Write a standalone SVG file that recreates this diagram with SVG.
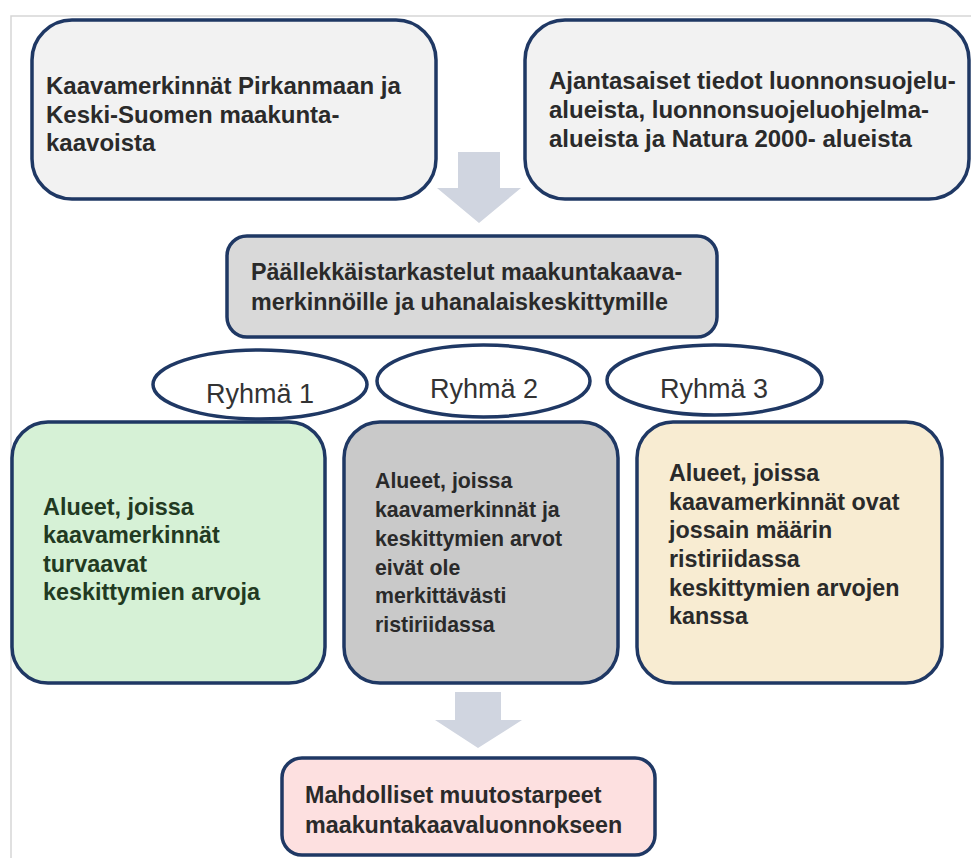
<svg xmlns="http://www.w3.org/2000/svg" width="971" height="858" viewBox="0 0 971 858">
<style>
.box{stroke:#1f3864;stroke-width:3.5}
.ell{fill:#ffffff;stroke:#1f3864;stroke-width:3.5}
.t{font-family:"Liberation Sans",Arial,sans-serif;font-weight:bold;fill:#2a2a2a}
.r{font-family:"Liberation Sans",Arial,sans-serif;font-size:27px;fill:#333333;text-anchor:middle}
.arrow{fill:#d0d5e0}
</style>
<rect x="0" y="0" width="971" height="858" fill="#ffffff"/>
<rect x="11" y="16" width="1000" height="900" fill="none" stroke="#d6d6d6" stroke-width="1.5"/>
<g id="connectors">
  <path class="arrow" d="M458,152 H500 V188 H521 L479,223 L437,188 H458 Z"/>
  <path class="arrow" d="M455,692 H501 V720 H522 L478,748 L435,720 H455 Z"/>
</g>
<g id="box-kaavamerkinnat">
  <rect class="box" x="32" y="20" width="404" height="179" rx="40" fill="#f2f2f2"/>
  <text class="t" font-size="24">
    <tspan x="46" y="94">Kaavamerkinnät Pirkanmaan ja</tspan>
    <tspan x="46" y="123">Keski-Suomen maakunta-</tspan>
    <tspan x="46" y="151">kaavoista</tspan>
  </text>
</g>
<g id="box-ajantasaiset">
  <rect class="box" x="525" y="20" width="444" height="179" rx="40" fill="#f2f2f2"/>
  <text class="t" font-size="24">
    <tspan x="549" y="89">Ajantasaiset tiedot luonnonsuojelu-</tspan>
    <tspan x="549" y="118">alueista, luonnonsuojeluohjelma-</tspan>
    <tspan x="549" y="147">alueista ja Natura 2000- alueista</tspan>
  </text>
</g>
<g id="box-paallekkaistarkastelut">
  <rect class="box" x="227" y="236" width="490" height="101" rx="20" fill="#d9d9d9"/>
  <text class="t" font-size="23.3">
    <tspan x="251" y="280">Päällekkäistarkastelut maakuntakaava-</tspan>
    <tspan x="251" y="310">merkinnöille ja uhanalaiskeskittymille</tspan>
  </text>
</g>
<g id="group-1">
  <ellipse class="ell" cx="260" cy="384.5" rx="107" ry="34.5"/>
  <text class="r" x="260" y="403">Ryhmä 1</text>
</g>
<g id="group-2">
  <ellipse class="ell" cx="483.5" cy="381" rx="106.5" ry="36"/>
  <text class="r" x="484" y="398">Ryhmä 2</text>
</g>
<g id="group-3">
  <ellipse class="ell" cx="714.5" cy="380" rx="107.5" ry="35"/>
  <text class="r" x="714" y="398">Ryhmä 3</text>
</g>
<g id="box-ryhma1">
  <rect class="box" x="12" y="422" width="313" height="261" rx="36" fill="#d6f1d6"/>
  <text class="t" font-size="23.4" style="fill:#223a22">
    <tspan x="43" y="515">Alueet, joissa</tspan>
    <tspan x="43" y="543">kaavamerkinnät</tspan>
    <tspan x="43" y="572">turvaavat</tspan>
    <tspan x="43" y="600">keskittymien arvoja</tspan>
  </text>
</g>
<g id="box-ryhma2">
  <rect class="box" x="344" y="422" width="274" height="261" rx="36" fill="#c9c9c9"/>
  <text class="t" font-size="21.3">
    <tspan x="375" y="488">Alueet, joissa</tspan>
    <tspan x="375" y="517">kaavamerkinnät ja</tspan>
    <tspan x="375" y="546">keskittymien arvot</tspan>
    <tspan x="375" y="575">eivät ole</tspan>
    <tspan x="375" y="603">merkittävästi</tspan>
    <tspan x="375" y="632">ristiriidassa</tspan>
  </text>
</g>
<g id="box-ryhma3">
  <rect class="box" x="637" y="422" width="305" height="261" rx="36" fill="#f8ecd2"/>
  <text class="t" font-size="23.3">
    <tspan x="669" y="481">Alueet, joissa</tspan>
    <tspan x="669" y="510">kaavamerkinnät ovat</tspan>
    <tspan x="669" y="538">jossain määrin</tspan>
    <tspan x="669" y="567">ristiriidassa</tspan>
    <tspan x="669" y="596">keskittymien arvojen</tspan>
    <tspan x="669" y="624">kanssa</tspan>
  </text>
</g>
<g id="box-muutostarpeet">
  <rect class="box" x="282" y="758" width="373" height="97" rx="20" fill="#fde0e0"/>
  <text class="t" font-size="23.3">
    <tspan x="305" y="803">Mahdolliset muutostarpeet</tspan>
    <tspan x="305" y="833">maakuntakaavaluonnokseen</tspan>
  </text>
</g>
</svg>
